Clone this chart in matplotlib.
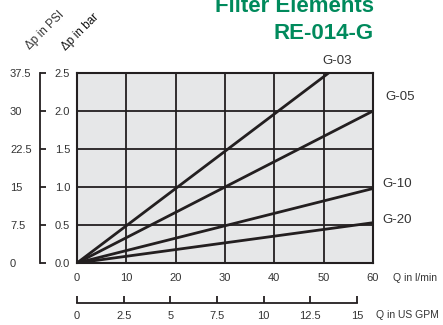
import matplotlib
matplotlib.use("Agg")
import matplotlib.pyplot as plt
from matplotlib.ticker import FixedLocator

plt.rcParams["font.family"] = ["Liberation Sans", "DejaVu Sans"]

# data: pressure drop (bar) vs flow (l/min)
g03_flow = [0, 51]
g03_dp = [0, 2.5]
g05_flow = [0, 60]
g05_dp = [0, 2.0]
g10_flow = [0, 60]
g10_dp = [0, 0.98]
g20_flow = [0, 60]
g20_dp = [0, 0.53]

flow_ticks = [0, 10, 20, 30, 40, 50, 60]
bar_ticks = [0.0, 0.5, 1.0, 1.5, 2.0, 2.5]
psi_ticks = [0, 7.5, 15, 22.5, 30, 37.5]
psi_labels = ["0", "7.5", "15", "22.5", "30", "37.5"]
gpm_ticks = [0, 2.5, 5, 7.5, 10, 12.5, 15]
gpm_labels = ["0", "2.5", "5", "7.5", "10", "12.5", "15"]

W, H = 443, 325
dark = "#231f20"
green = "#008a5c"
txt = "#333333"

fig = plt.figure(figsize=(W / 100, H / 100), dpi=100)

def rect(x0, y0, x1, y1):
    # pixel box (top-left origin) -> figure fraction
    return [x0 / W, 1 - y1 / H, (x1 - x0) / W, (y1 - y0) / H]

ax = fig.add_axes(rect(77, 73, 373, 263))
ax.set_facecolor("#e6e7e8")
ax.set_xlim(0, 60)
ax.set_ylim(0, 2.5)
ax.set_xticks(flow_ticks)
ax.set_yticks(bar_ticks)
ax.set_yticklabels([f"{v:.1f}" for v in bar_ticks])
ax.tick_params(length=0, labelsize=8, labelcolor=txt)
ax.tick_params(axis="x", pad=7)
ax.tick_params(axis="y", pad=5)
ax.grid(True, color=dark, lw=1.3)
ax.set_axisbelow(True)
for s in ax.spines.values():
    s.set_color(dark)
    s.set_linewidth(1.5)

series = [
    ("G-03", g03_flow, g03_dp, (6, 9), "center"),
    ("G-05", g05_flow, g05_dp, (9, 10), "left"),
    ("G-10", g10_flow, g10_dp, (7, 3), "left"),
    ("G-20", g20_flow, g20_dp, (7, 2), "left"),
]
for name, fx, dp, off, ha in series:
    ax.plot(fx, dp, color=dark, lw=2, solid_capstyle="butt")
    ax.annotate(name, xy=(fx[-1], dp[-1]), xytext=off, textcoords="offset points",
                ha=ha, va="center", fontsize=9.5, color=txt, annotation_clip=False)

fig.text(393 / W, 1 - 278 / H, "Q in l/min", fontsize=7.5, color=txt,
         ha="left", va="center")

# psi axis on the left
ax_psi = fig.add_axes(rect(40, 73, 41, 263))
ax_psi.set_ylim(0, 37.5)
ax_psi.patch.set_visible(False)
for k in ["top", "right", "bottom"]:
    ax_psi.spines[k].set_visible(False)
ax_psi.spines["left"].set_color(dark)
ax_psi.spines["left"].set_linewidth(1.3)
ax_psi.set_xticks([])
ax_psi.set_yticks(psi_ticks)
ax_psi.set_yticklabels(psi_labels, ha="left")
ax_psi.yaxis.set_minor_locator(FixedLocator([0, 37.5]))
ax_psi.tick_params(axis="y", which="major", direction="in", length=4, width=1.3,
                   color=dark, pad=21.6, labelsize=8, labelcolor=txt)
ax_psi.tick_params(axis="y", which="minor", direction="in", length=7, width=1.3,
                   color=dark)

# US GPM axis at the bottom
ax_gpm = fig.add_axes(rect(77, 302, 357, 303))
ax_gpm.set_xlim(0, 15)
ax_gpm.patch.set_visible(False)
for k in ["top", "right", "left"]:
    ax_gpm.spines[k].set_visible(False)
ax_gpm.spines["bottom"].set_color(dark)
ax_gpm.spines["bottom"].set_linewidth(1.3)
ax_gpm.set_yticks([])
ax_gpm.set_xticks(gpm_ticks)
ax_gpm.set_xticklabels(gpm_labels)
ax_gpm.tick_params(axis="x", direction="in", length=5, width=1.3, color=dark,
                   pad=5.5, labelsize=8, labelcolor=txt)
fig.text(376 / W, 1 - 315 / H, "Q in US GPM", fontsize=7.5, color=txt,
         ha="left", va="center")

# rotated axis titles
fig.text(45 / W, 1 - 30 / H, "Δp in PSI", rotation=45, fontsize=8.5, color=txt,
         ha="center", va="center")
fig.text(80 / W, 1 - 32 / H, "Δp in bar", rotation=45, fontsize=8.5, color="#111111",
         ha="center", va="center")

# title
fig.text(374 / W, 1 - 12 / H, "Filter Elements", fontsize=16, fontweight="bold",
         color=green, ha="right", va="baseline")
fig.text(374 / W, 1 - 39 / H, "RE-014-G", fontsize=16, fontweight="bold",
         color=green, ha="right", va="baseline")

fig.savefig("out.png", dpi=100)
